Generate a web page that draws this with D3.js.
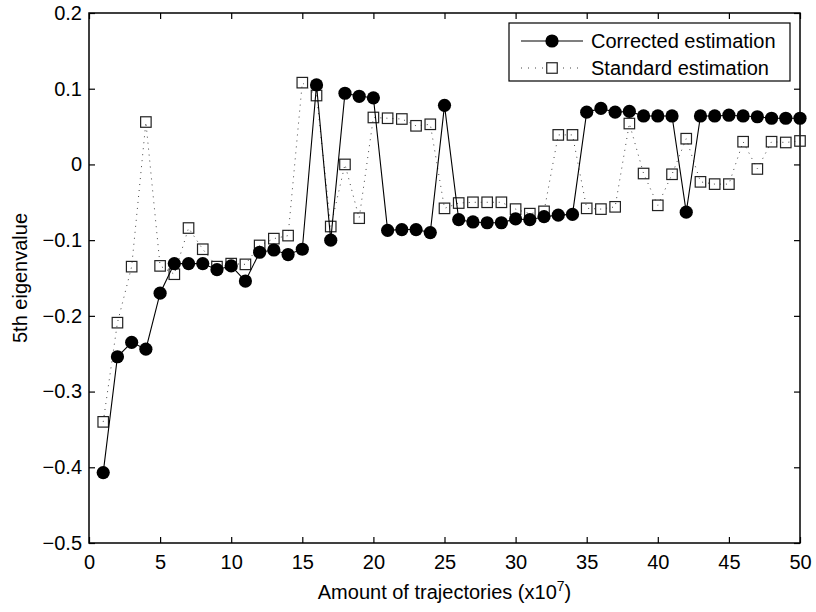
<!DOCTYPE html>
<html><head><meta charset="utf-8">
<script src="https://cdn.jsdelivr.net/npm/d3@7"></script>
<style>body{margin:0;background:#fff}svg{display:block}text{font-family:"Liberation Sans",Arial,Helvetica,sans-serif;fill:#000}</style>
</head><body><svg id="c" width="816" height="612"></svg>
<script>
const xs = d3.range(1, 51);
const corrected = [-0.407,-0.254,-0.235,-0.244,-0.170,-0.131,-0.131,-0.131,-0.139,-0.134,
  -0.154,-0.116,-0.113,-0.119,-0.112,0.105,-0.100,0.094,0.090,0.088,
  -0.087,-0.086,-0.086,-0.090,0.078,-0.073,-0.076,-0.077,-0.077,-0.072,
  -0.073,-0.069,-0.067,-0.066,0.069,0.074,0.069,0.070,0.064,0.064,
  0.064,-0.063,0.064,0.064,0.065,0.064,0.063,0.061,0.061,0.061];
const standard = [-0.340,-0.209,-0.135,0.056,-0.134,-0.145,-0.084,-0.112,-0.135,-0.131,
  -0.132,-0.107,-0.098,-0.094,0.108,0.091,-0.082,0.000,-0.071,0.062,
  0.061,0.060,0.051,0.053,-0.058,-0.051,-0.050,-0.050,-0.050,-0.059,
  -0.065,-0.062,0.039,0.039,-0.058,-0.059,-0.056,0.054,-0.012,-0.054,
  -0.013,0.034,-0.023,-0.026,-0.026,0.030,-0.006,0.030,0.029,0.031];
const xTicks = d3.range(0, 51, 5);
const yTicks = [-0.5,-0.4,-0.3,-0.2,-0.1,0,0.1,0.2];
const seriesNames = ["Corrected estimation","Standard estimation"];
const xLabel = "Amount of trajectories (x10";
const xLabelSup = "7";
const yLabel = "5th eigenvalue";

const svg = d3.select("#c");
const m = {l:89, r:800, t:13, b:543};
const x = d3.scaleLinear().domain([0,50]).range([m.l, m.r]);
const y = d3.scaleLinear().domain([-0.5,0.2]).range([m.b, m.t]);
const fs = 20, tl = 6;
const fmt = v => Math.abs(v) < 1e-9 ? "0" : d3.format(".1f")(v);

// axes
const ax = svg.append("g");
ax.append("g").attr("transform",`translate(0,${m.b})`)
  .call(d3.axisBottom(x).tickValues(xTicks).tickSize(-tl).tickPadding(12).tickFormat(d3.format("d")));
ax.append("g").attr("transform",`translate(0,${m.t})`)
  .call(d3.axisTop(x).tickValues(xTicks).tickSize(-tl).tickFormat(""));
ax.append("g").attr("transform",`translate(${m.l},0)`)
  .call(d3.axisLeft(y).tickValues(yTicks).tickSize(-tl).tickPadding(7).tickFormat(fmt));
ax.append("g").attr("transform",`translate(${m.r},0)`)
  .call(d3.axisRight(y).tickValues(yTicks).tickSize(-tl).tickFormat(""));
ax.selectAll(".domain").remove();
ax.selectAll(".tick line").attr("stroke","#000").attr("stroke-width",1.2);
ax.selectAll(".tick text").attr("font-size",fs).attr("font-family","Liberation Sans, Arial, sans-serif").attr("fill","#000");
svg.append("rect").attr("x",m.l).attr("y",m.t).attr("width",m.r-m.l).attr("height",m.b-m.t)
  .attr("fill","none").attr("stroke","#000").attr("stroke-width",1.5);

// standard (dotted, squares)
const lineS = d3.line().x((d,i)=>x(xs[i])).y(d=>y(d));
svg.append("path").datum(standard).attr("d",lineS).attr("fill","none")
  .attr("stroke","#444").attr("stroke-width",1).attr("stroke-dasharray","1,5");
const sq = 10.5;
svg.append("g").selectAll("rect").data(standard).join("rect")
  .attr("x",(d,i)=>x(xs[i])-sq/2).attr("y",d=>y(d)-sq/2).attr("width",sq).attr("height",sq)
  .attr("fill","none").attr("stroke","#222").attr("stroke-width",1.2);

// corrected (solid, circles)
svg.append("path").datum(corrected).attr("d",lineS).attr("fill","none")
  .attr("stroke","#000").attr("stroke-width",1.1);
svg.append("g").selectAll("circle").data(corrected).join("circle")
  .attr("cx",(d,i)=>x(xs[i])).attr("cy",d=>y(d)).attr("r",6.6).attr("fill","#000");

// labels
const xl = svg.append("text").attr("x",(m.l+m.r)/2).attr("y",599).attr("text-anchor","middle").attr("font-size",fs);
xl.append("tspan").text(xLabel);
xl.append("tspan").attr("dy",-8).attr("font-size",14).text(xLabelSup);
xl.append("tspan").attr("dy",8).text(")");
svg.append("text").attr("transform",`translate(27,${(m.t+m.b)/2}) rotate(-90)`)
  .attr("text-anchor","middle").attr("font-size",fs).text(yLabel);

// legend
const lg = svg.append("g");
lg.append("rect").attr("x",509).attr("y",23).attr("width",281).attr("height",58)
  .attr("fill","#fff").attr("stroke","#000").attr("stroke-width",1.2);
const rows = [41, 68];
lg.append("line").attr("x1",521).attr("x2",583).attr("y1",rows[0]).attr("y2",rows[0]).attr("stroke","#000").attr("stroke-width",1.1);
lg.append("circle").attr("cx",552).attr("cy",rows[0]).attr("r",6.6).attr("fill","#000");
lg.append("line").attr("x1",521).attr("x2",583).attr("y1",rows[1]).attr("y2",rows[1]).attr("stroke","#444").attr("stroke-dasharray","1,6");
lg.append("rect").attr("x",552-sq/2).attr("y",rows[1]-sq/2).attr("width",sq).attr("height",sq).attr("fill","#fff").attr("stroke","#222").attr("stroke-width",1.2);
seriesNames.forEach((n,i)=>lg.append("text").attr("x",591).attr("y",rows[i]).attr("dy","0.35em").attr("font-size",fs).text(n));
</script></body></html>
